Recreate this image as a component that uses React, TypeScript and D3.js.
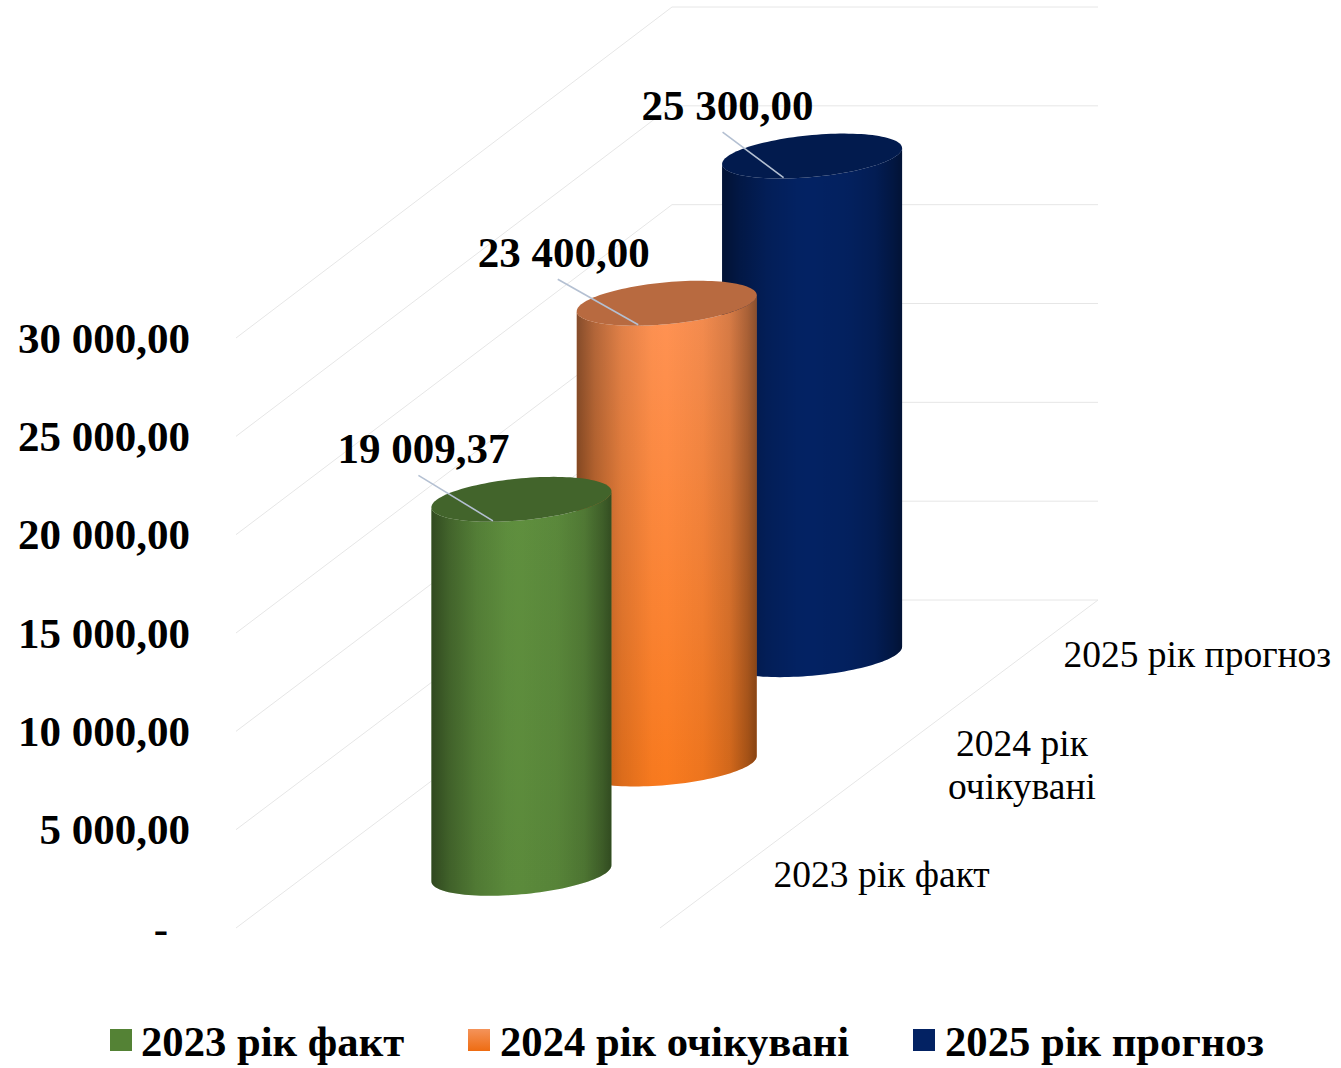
import * as d3 from "d3";

const categories = ["2023 рік факт", "2024 рік очікувані", "2025 рік прогноз"];
const values = [19009.37, 23400, 25300];
const valueLabels = ["19 009,37", "23 400,00", "25 300,00"];
const yTicks = [0, 5000, 10000, 15000, 20000, 25000, 30000];
const yTickLabels = ["-", "5 000,00", "10 000,00", "15 000,00", "20 000,00", "25 000,00", "30 000,00"];
const categoryLines = [["2023 рік факт"], ["2024 рік", "очікувані"], ["2025 рік прогноз"]];

// body gradient stops, left to right
const sideStops = [
  [0, 0.48],
  [0.1, 0.3],
  [0.25, 0.12],
  [0.42, 0.01],
  [0.5, 0],
  [0.7, 0.05],
  [0.85, 0.16],
  [0.95, 0.34],
  [1, 0.46],
];
const bodyColors = [
  ["#5f8f3e", "#5b8a3b"],
  ["#ff9355", "#f97a1e"],
  ["#032263", "#032263"],
];
const capColors = ["#42642b", "#b86a40", "#021b4e"];
const swatchColors = [
  ["#548235", "#548235"],
  ["#f4935a", "#ee6c12"],
  ["#032263", "#032263"],
];

const floorLeft = 236;
const floorRight = 661.5;
const floorY = 928;
const depthX = 436;
const depthY = 328;
const backRight = 1098;
const rx = 90;
const tilt = 8;
const ry = 21;

const depth = d3.scaleBand<string>().domain(categories).range([0, 1]);
const across = d3.scaleLinear().domain([0, 1]).range([floorLeft, floorRight]);
const yHeight = d3.scaleLinear().domain([0, 30000]).range([0, 590]);
const yBack = d3.scaleLinear().domain([0, 30000]).range([0, 593]);

const mid = (c: string) => depth(c)! + depth.bandwidth() / 2;
const centerX = (c: string) => across(0.5) + depthX * mid(c);
const baseY = (c: string) => floorY - depthY * mid(c);
// the back wall is drawn slightly taller than the front edge
const heightAt = (c: string, v: number) => yHeight(v) * (1 + 0.0025 * mid(c));

const ellipsePoint = (cx: number, cy: number, deg: number): [number, number] => {
  const a = (deg * Math.PI) / 180;
  return [cx + rx * Math.cos(a), cy - tilt * Math.cos(a) - ry * Math.sin(a)];
};

const capPath = (cx: number, cy: number) =>
  d3.line().curve(d3.curveLinearClosed)(d3.range(0, 360, 3).map((d) => ellipsePoint(cx, cy, d)))!;

const bodyPath = (cx: number, top: number, bottom: number) => {
  const lower = d3.range(180, 361, 3).map((d) => ellipsePoint(cx, bottom, d));
  const upper = d3.range(360, 179, -3).map((d) => ellipsePoint(cx, top, d));
  return d3.line().curve(d3.curveLinearClosed)([...lower, ...upper])!;
};

const labelOffsets = [-98, -103, -84.5];
const leaderStart = [-5, -6, -5];
const categoryOffsets = [147.5, 142.5, 172.5];
const categoryNudge = [0, -1, -2];
const legendX = [110, 468, 913];
const legendTextX = [141, 500, 945];

const serif = "'Liberation Serif', 'Times New Roman', serif";

export default function App() {
  return (
    <svg
      width={1341}
      height={1068}
      style={{ position: "absolute", left: 0, top: 0, background: "#fff" }}
      fontFamily={serif}
    >
      <defs>
        <linearGradient id="side" x1="0" x2="1" y1="0" y2="0">
          {sideStops.map(([o, a]) => (
            <stop key={o} offset={o} stopColor="#000" stopOpacity={a} />
          ))}
        </linearGradient>
        {bodyColors.map((c, i) => (
          <linearGradient key={i} id={`body${i}`} x1="0" x2="0" y1="0" y2="1">
            <stop offset="0" stopColor={c[0]} />
            <stop offset="1" stopColor={c[1]} />
          </linearGradient>
        ))}
        {swatchColors.map((c, i) => (
          <linearGradient key={i} id={`swatch${i}`} x1="0" x2="0" y1="0" y2="1">
            <stop offset="0" stopColor={c[0]} />
            <stop offset="1" stopColor={c[1]} />
          </linearGradient>
        ))}
      </defs>

      {/* walls and floor */}
      <g stroke="#e6e6e6" strokeWidth={1} fill="none">
        {yTicks.map((t) => {
          const y = floorY - yHeight(t);
          const back = floorY - depthY - yBack(t);
          return (
            <g key={t}>
              <line x1={floorLeft} y1={y} x2={floorLeft + depthX} y2={back} />
              <line x1={floorLeft + depthX} y1={back} x2={backRight} y2={back} />
            </g>
          );
        })}
        <line x1={660} y1={floorY} x2={backRight} y2={floorY - depthY} />
      </g>

      {/* back to front so the nearer cylinders overlap */}
      {categories
        .map((c, i) => ({ c, i }))
        .reverse()
        .map(({ c, i }) => {
          const cx = centerX(c);
          const bottom = baseY(c);
          const top = bottom - heightAt(c, values[i]);
          const d = bodyPath(cx, top, bottom);
          return (
            <g key={c}>
              <path d={d} fill={`url(#body${i})`} />
              <path d={d} fill="url(#side)" />
              <path d={capPath(cx, top)} fill={capColors[i]} />
            </g>
          );
        })}

      {/* leader lines and value labels */}
      {categories.map((c, i) => {
        const cx = centerX(c);
        const top = baseY(c) - heightAt(c, values[i]);
        const lx = cx + labelOffsets[i];
        const ly = top - 50;
        return (
          <g key={c}>
            <line
              x1={lx + leaderStart[i]}
              y1={ly + 26}
              x2={cx - 28.5}
              y2={top + 21.5}
              stroke="#b4c0d2"
              strokeWidth={1.6}
            />
            <text x={lx} y={ly + 14} textAnchor="middle" fontSize={43} fontWeight="bold">
              {valueLabels[i]}
            </text>
          </g>
        );
      })}

      {/* value axis */}
      {yTicks.map((t, i) => (
        <text
          key={t}
          x={t === 0 ? 168 : 190}
          y={floorY - yHeight(t) + 14.5}
          textAnchor="end"
          fontSize={43}
          fontWeight="bold"
        >
          {yTickLabels[i]}
        </text>
      ))}

      {/* category axis */}
      {categories.map((c, i) => {
        const x = floorRight + depthX * mid(c) + categoryOffsets[i];
        const y = floorY - depthY * mid(c) + categoryNudge[i];
        const lines = categoryLines[i];
        return (
          <text key={c} x={x} textAnchor="middle" fontSize={37.5}>
            {lines.map((l, j) => (
              <tspan key={l} x={x} y={y + 14 + (j - (lines.length - 1) / 2) * 43}>
                {l}
              </tspan>
            ))}
          </text>
        );
      })}

      {/* legend */}
      {categories.map((c, i) => (
        <g key={c}>
          <rect x={legendX[i]} y={1029} width={22} height={22} fill={`url(#swatch${i})`} />
          <text x={legendTextX[i]} y={1056} fontSize={42.67} fontWeight="bold">
            {c}
          </text>
        </g>
      ))}
    </svg>
  );
}
